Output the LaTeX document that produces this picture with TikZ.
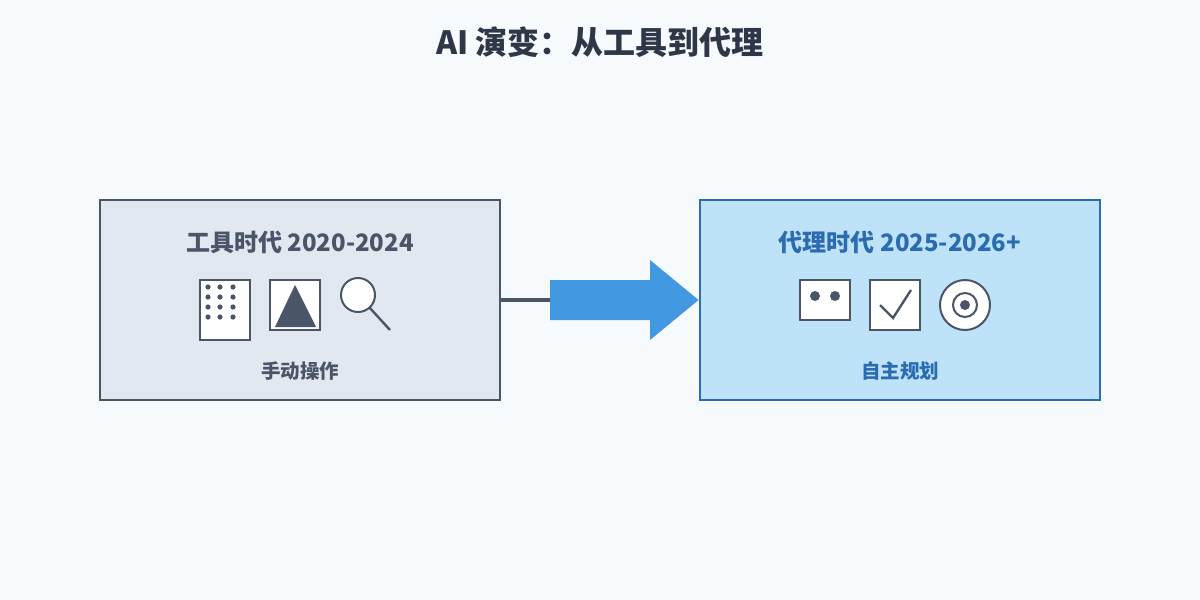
\documentclass[tikz,border=0pt]{standalone}
\usepackage{fontspec}
\setmainfont{Noto Sans CJK SC}
\usepackage{tikz}
\definecolor{bgc}{HTML}{F7FAFC}
\definecolor{slate}{HTML}{4A5568}
\definecolor{ink}{HTML}{2D3748}
\definecolor{toolfill}{HTML}{E2E8F0}
\definecolor{agentfill}{HTML}{BEE3F8}
\definecolor{agentline}{HTML}{2B6CB0}
\definecolor{agenttext}{HTML}{2B6CB0}
\definecolor{flow}{HTML}{4299E1}
\tikzstyle{era} = [rectangle, minimum width=400pt, minimum height=200pt, line width=2.8pt]
\tikzstyle{icon} = [draw=slate, fill=white, line width=2pt]
\tikzstyle{heading} = [font=\bfseries\fontsize{24}{28}\selectfont]
\tikzstyle{caption} = [font=\bfseries\fontsize{19.5}{23}\selectfont]

\begin{document}
\begin{tikzpicture}[x=1pt,y=-1pt]
	\fill[bgc] (0,0) rectangle (1200,600);
	\useasboundingbox (0,0) rectangle (1200,600);
	\node (title) [font=\bfseries\fontsize{32}{36}\selectfont, text=ink] at (600,42) {AI 演变：从工具到代理};

	\node (tools) [era, draw=slate, fill=toolfill] at (300,300) {};
	\node (agents) [era, draw=agentline, fill=agentfill] at (900,300) {};
	\node (toolshead) [heading, text=slate] at (300,242) {工具时代 2020-2024};
	\node (agentshead) [heading, text=agenttext] at (900,242) {代理时代 2025-2026+};
	\node (toolscap) [caption, text=slate] at (300,371) {手动操作};
	\node (agentscap) [caption, text=agenttext] at (900,371) {自主规划};

	% tool icons
	\draw [icon] (200,280) rectangle (250,340);
	\foreach \y in {287,297,307,317}
		\foreach \x in {208,220,233}
			\fill[slate] (\x,\y) circle (2.6);
	\draw [icon] (270,280) rectangle (320,330);
	\fill[slate] (295,285) -- (316,327) -- (275,327) -- cycle;
	\draw [icon] (358,295) circle (17);
	\draw [slate, line width=2.4pt] (369,307) -- (390,330);

	% agent icons
	\draw [icon] (800,280) rectangle (850,320);
	\fill[slate] (815,296) circle (5) (835,296) circle (5);
	\draw [icon] (870,280) rectangle (920,330);
	\draw [slate, line width=2.4pt] (880,305) -- (893,318) -- (911,290);
	\draw [icon] (965,305) circle (25);
	\draw [slate, line width=2pt] (965,305) circle (12);
	\fill[slate] (965,305) circle (5);

	% transition
	\coordinate (stem) at (550,300);
	\draw [slate, line width=3.5pt] (tools.east) -- (stem);
	\fill[flow] (550,280) -- (650,280) -- (650,260) -- (agents.west) -- (650,340) -- (650,320) -- (550,320) -- cycle;
\end{tikzpicture}
\end{document}
